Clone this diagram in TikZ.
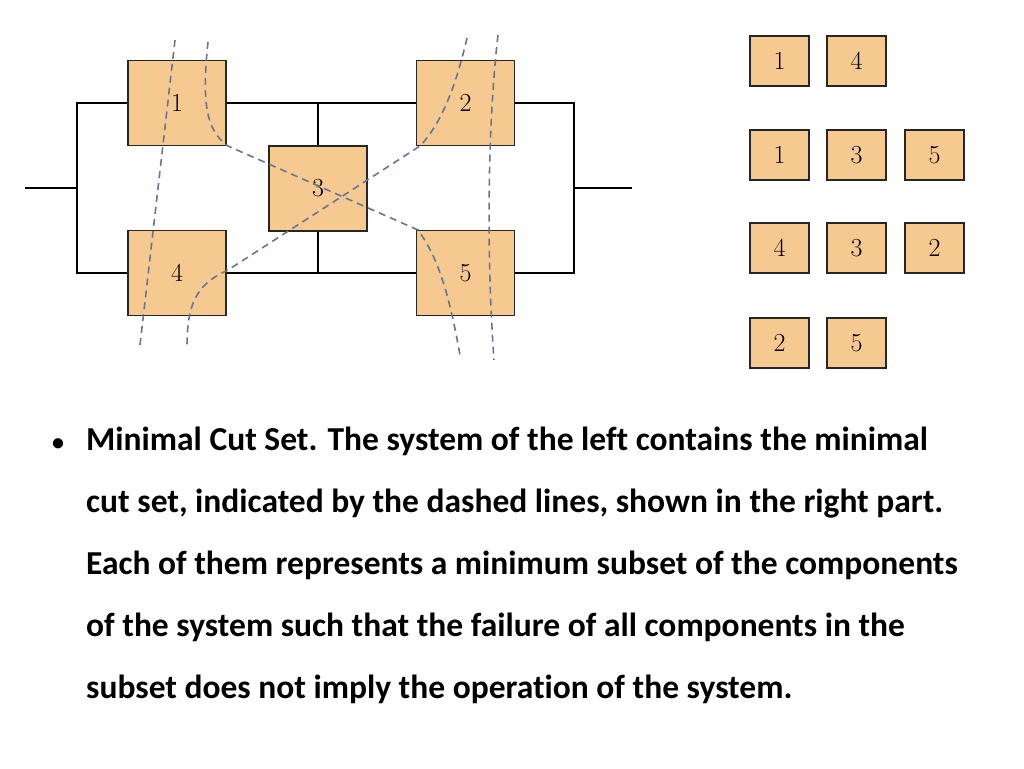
\documentclass[tikz,border=0pt]{standalone}
\usepackage{fontspec}
\newfontfamily\calfnt[Ligatures=NoCommon]{Carlito}
\begin{document}
\begin{tikzpicture}[x=1pt,y=-1pt,
  comp/.style={draw=black!85,line width=1.5pt,fill={rgb,255:red,246;green,201;blue,145},inner sep=0pt,font=\fontsize{26}{26}\selectfont},
  wire/.style={line width=2.2pt,black},
  cut/.style={dash pattern=on 7pt off 5pt,line width=1.6pt,color={rgb,255:red,100;green,118;blue,150}},
  txt/.style={anchor=base west,inner sep=0pt,font=\calfnt\bfseries\fontsize{33.5}{33.5}\selectfont}]
\useasboundingbox (0,0) rectangle (1024,768);
\node[comp,minimum width=98pt,minimum height=85pt] (n1) at (177,103) {1};
\node[comp,minimum width=98pt,minimum height=85pt] (n2) at (465.5,103) {2};
\node[comp,minimum width=98pt,minimum height=85pt] (n3) at (318,188.5) {3};
\node[comp,minimum width=98pt,minimum height=85pt] (n4) at (177,273) {4};
\node[comp,minimum width=98pt,minimum height=85pt] (n5) at (465.5,273) {5};
\coordinate (L) at (25,188); \coordinate (R) at (632,188);
\coordinate (LT) at (77,103); \coordinate (LB) at (77,273);
\coordinate (RT) at (574,103); \coordinate (RB) at (574,273);
\coordinate (MT) at (318,103); \coordinate (MB) at (318,273);
\draw[wire] (L) -- (77,188);
\draw[wire,line cap=rect] (LT) -- (LB);
\draw[wire,line cap=rect] (RT) -- (RB);
\draw[wire] (574,188) -- (R);
\draw[wire] (LT) -- (n1.west); \draw[wire] (n1.east) -- (n2.west); \draw[wire] (n2.east) -- (RT);
\draw[wire] (LB) -- (n4.west); \draw[wire] (n4.east) -- (n5.west); \draw[wire] (n5.east) -- (RB);
\draw[wire] (MT) -- (n3.north); \draw[wire] (n3.south) -- (MB);
\draw[cut] (175,40) -- (140,345);
\draw[cut] (208,42) .. controls (202,100) and (205,130) .. (228,146) -- (418,230) .. controls (440,260) and (450,300) .. (460,355);
\draw[cut] (467,38) .. controls (455,90) and (440,125) .. (420,146) -- (228,270) .. controls (195,285) and (187,305) .. (187,348);
\draw[cut] (498,35) .. controls (488,120) and (486,250) .. (494,360);
\tikzset{sb/.style={comp,minimum width=59pt,minimum height=50pt}}
\node[sb] (a1) at (779.5,61) {1}; \node[sb] (a4) at (856.5,61) {4};
\node[sb] (b1) at (779.5,155) {1}; \node[sb] (b3) at (856.5,155) {3}; \node[sb] (b5) at (934.5,155) {5};
\node[sb] (c4) at (779.5,248) {4}; \node[sb] (c3) at (856.5,248) {3}; \node[sb] (c2) at (934.5,248) {2};
\node[sb] (d2) at (779.5,343) {2}; \node[sb] (d5) at (856.5,343) {5};
\node[txt] (bul) at (52,450) {\fontsize{24}{24}\selectfont •};
\node[txt] (t1) at (86,450) {Minimal Cut Set. The system of the left contains the minimal};
\node[txt] (t2) at (86,512) {cut set, indicated by the dashed lines, shown in the right part.};
\node[txt] (t3) at (86,574) {Each of them represents a minimum subset of the components};
\node[txt] (t4) at (86,636) {of the system such that the failure of all components in the};
\node[txt] (t5) at (86,698) {subset does not imply the operation of the system.};
\end{tikzpicture}
\end{document}
